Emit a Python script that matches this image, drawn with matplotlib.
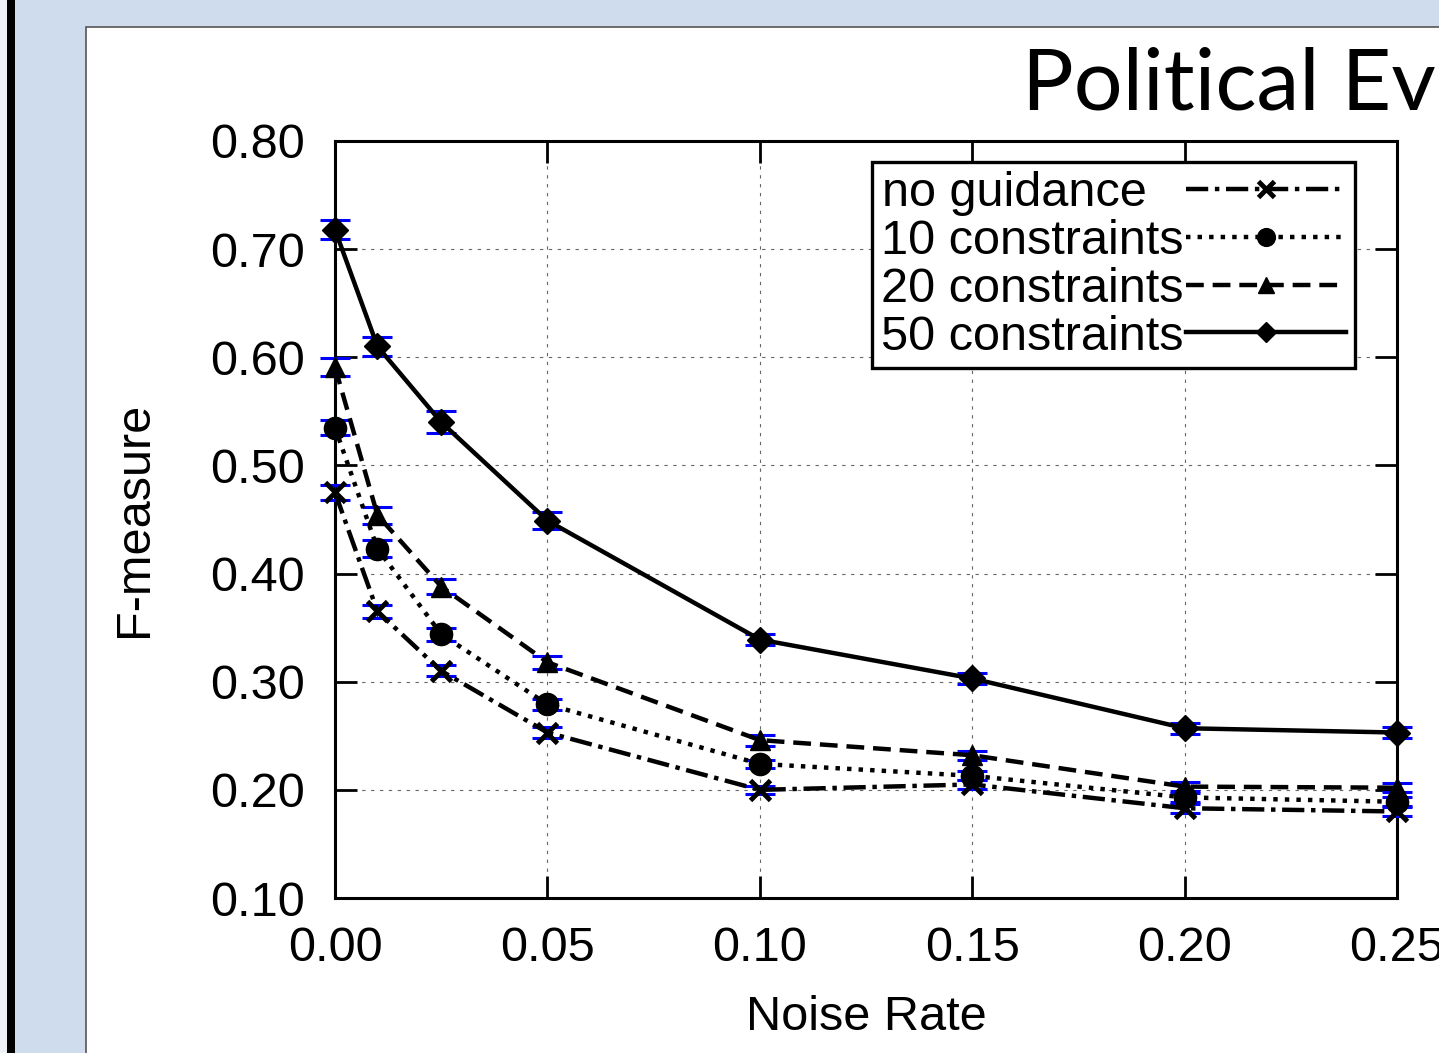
import numpy as np
import matplotlib as mpl
mpl.use('Agg')
import matplotlib.pyplot as plt
from matplotlib.patches import Rectangle

#Datos
noise = [0.0, 0.01, 0.025, 0.05, 0.10, 0.15, 0.20, 0.25]

f_none = [0.475, 0.365, 0.310, 0.253, 0.200, 0.205, 0.183, 0.180]
f_10 = [0.535, 0.423, 0.344, 0.279, 0.224, 0.213, 0.193, 0.189]
f_20 = [0.591, 0.454, 0.388, 0.318, 0.246, 0.232, 0.203, 0.202]
f_50 = [0.718, 0.610, 0.540, 0.449, 0.339, 0.303, 0.257, 0.253]

e_none = [0.007, 0.006, 0.005, 0.005, 0.004, 0.004, 0.004, 0.004]
e_10 = [0.007, 0.008, 0.006, 0.005, 0.004, 0.004, 0.004, 0.004]
e_20 = [0.008, 0.008, 0.007, 0.006, 0.005, 0.004, 0.004, 0.004]
e_50 = [0.009, 0.009, 0.010, 0.008, 0.005, 0.005, 0.005, 0.005]

labels = ['no guidance', '10 constraints', '20 constraints', '50 constraints']
xticks = [0.0, 0.05, 0.10, 0.15, 0.20, 0.25]
yticks = [0.1, 0.2, 0.3, 0.4, 0.5, 0.6, 0.7, 0.8]

#Estilo
W, H = 1439, 1053
fs = 35
params = {'font.family': ['Liberation Sans', 'DejaVu Sans'], 'font.size': fs}
mpl.rcParams.update(params)

fig = plt.figure(figsize=(W/100., H/100.), dpi=100)
fig.patch.set_facecolor('#cfdcee')

#Fondo de la diapositiva
fig.patches.append(Rectangle((0, 0), 7./W, 1, transform=fig.transFigure,
                             facecolor='#eef2f8', edgecolor='none', zorder=-5))
fig.patches.append(Rectangle((7./W, 0), 8./W, 1, transform=fig.transFigure,
                             facecolor='black', edgecolor='none', zorder=-5))
fig.patches.append(Rectangle((86./W, -0.1), 1, 1 - 27./H + 0.1, transform=fig.transFigure,
                             facecolor='white', edgecolor='#555555', lw=1.2, zorder=-5))

fig.text(1022./W, 1 - 109./H, 'Political Ev', fontfamily=['Lato', 'DejaVu Sans'],
         fontsize=62, va='baseline', ha='left')

ax = fig.add_axes([335./W, 1 - 898./H, (1397. - 335.)/W, (898. - 141.)/H])
ax.set_xlim(0, 0.25)
ax.set_ylim(0.1, 0.8)
ax.set_xticks(xticks)
ax.set_yticks(yticks)
ax.xaxis.set_major_formatter(mpl.ticker.FormatStrFormatter('%.2f'))
ax.yaxis.set_major_formatter(mpl.ticker.FormatStrFormatter('%.2f'))
ax.tick_params(direction='in', length=16, width=2, top=True, right=True, labelsize=fs)
ax.tick_params(axis='x', pad=20)
ax.tick_params(axis='y', pad=22)
for s in ax.spines.values():
    s.set_linewidth(2.2)
ax.grid(True, color='#666666', linestyle=(0, (3, 5)), linewidth=0.8)
ax.set_axisbelow(True)

lw = 3.2
series = [
    (f_none, e_none, 'x', (0, (5, 1.5, 1, 1.5)), 15, 3.5),
    (f_10, e_10, 'o', (0, (1, 1.6)), 16, 1),
    (f_20, e_20, '^', (0, (4, 2)), 15, 1),
    (f_50, e_50, 'D', '-', 13, 1),
]
for (vals, errs, mk, ls, ms, mew), lab in zip(series, labels):
    ax.errorbar(noise, vals, yerr=errs, fmt='none', ecolor='blue', elinewidth=1,
                capsize=11, capthick=2.2, clip_on=False, zorder=3)
    # etiqueta corta rellenada para que el texto quede alineado a la izquierda
    if lab == 'no guidance':
        lab = lab + '  \u2009'
    ax.plot(noise, vals, linestyle=ls, color='black', lw=lw, marker=mk, ms=ms,
            mew=mew, mfc='black', mec='black', label=lab, clip_on=False, zorder=4)

leg = ax.legend(loc='upper left', bbox_to_anchor=((872. - 335.)/1062., (898. - 162.)/757.),
                borderaxespad=0, markerfirst=False, fancybox=False, framealpha=1,
                edgecolor='black', handlelength=3.3, handletextpad=0.05,
                labelspacing=0.06, borderpad=0.18, fontsize=fs, markerscale=0.8)
leg.get_frame().set_linewidth(2.4)

ax.set_xlabel('Noise Rate', fontsize=fs)
ax.set_ylabel('F-measure', fontsize=fs)
ax.xaxis.set_label_coords(0.5, (898. - 995.)/757.)
ax.yaxis.set_label_coords((157. - 335.)/1062., 0.5)

plt.savefig('out.png', dpi=100)
